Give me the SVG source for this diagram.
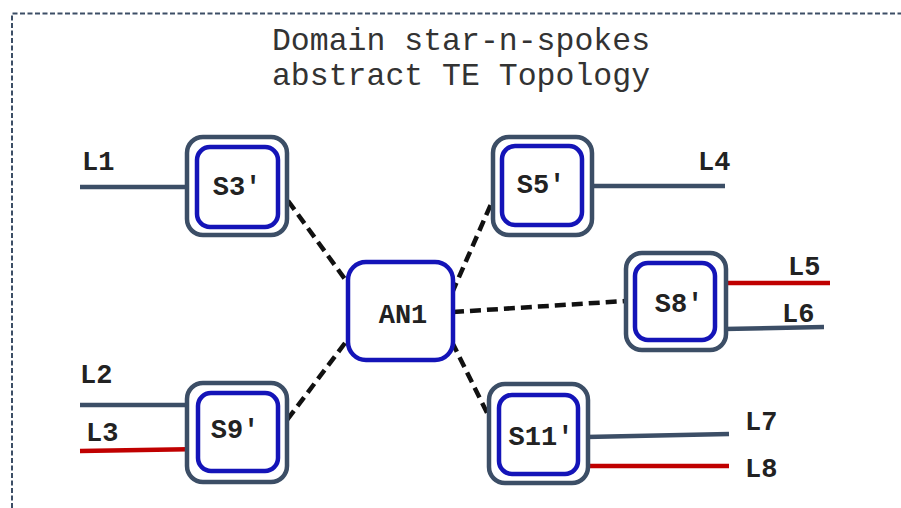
<svg xmlns="http://www.w3.org/2000/svg" width="901" height="508" viewBox="0 0 901 508">
<style>
.frame{fill:none;stroke:#3c4e66;stroke-width:2;stroke-dasharray:5 2.5}
.title{font-family:"Liberation Mono","Courier New",monospace;font-size:31.5px;fill:#333;text-anchor:middle}
.outer{fill:#fff;stroke:#3c4e66;stroke-width:4.5}
.inner{fill:#fff;stroke:#1414b8;stroke-width:4.5}
.lbl{font-family:"Liberation Mono","Courier New",monospace;font-size:27px;font-weight:bold;fill:#222;text-anchor:middle}
.ll{font-family:"Liberation Mono","Courier New",monospace;font-size:27px;font-weight:bold;fill:#222}
.link{fill:none;stroke:#3c4e66;stroke-width:4.5}
.red{fill:none;stroke:#c00000;stroke-width:4.5}
.dash{fill:none;stroke:#111;stroke-width:4.5;stroke-dasharray:11 6}
</style>
<path class="frame" d="M12,508 V13.5 H901"/>
<text class="title" x="461" y="50">Domain star-n-spokes</text>
<text class="title" x="461" y="85">abstract TE Topology</text>

<g id="connectors">
  <line class="dash" x1="278" y1="187" x2="347" y2="282"/>
  <line class="dash" x1="452" y1="293" x2="495" y2="195"/>
  <line class="dash" x1="453" y1="312" x2="626" y2="301"/>
  <line class="dash" x1="345" y1="343" x2="278" y2="432"/>
  <line class="dash" x1="452" y1="342" x2="499" y2="437"/>
</g>

<g id="links">
  <line class="link" x1="80" y1="187" x2="189" y2="187"/>
  <text class="ll" x="82" y="170">L1</text>
  <line class="link" x1="590" y1="186" x2="725" y2="186"/>
  <text class="ll" x="698" y="170">L4</text>
  <line class="red" x1="717" y1="283" x2="830" y2="283"/>
  <text class="ll" x="788" y="275">L5</text>
  <line class="link" x1="724" y1="329" x2="824" y2="327"/>
  <text class="ll" x="782" y="322">L6</text>
  <line class="link" x1="80" y1="405" x2="189" y2="405"/>
  <text class="ll" x="80" y="383">L2</text>
  <line class="red" x1="80" y1="451" x2="203" y2="449"/>
  <text class="ll" x="86" y="441">L3</text>
  <line class="link" x1="586" y1="437" x2="729" y2="434"/>
  <text class="ll" x="745" y="430">L7</text>
  <line class="red" x1="586" y1="466" x2="729" y2="466"/>
  <text class="ll" x="745" y="477">L8</text>
</g>

<g id="S3">
  <rect class="outer" x="187" y="137" width="100" height="98" rx="16"/>
  <rect class="inner" x="197" y="147" width="81" height="80" rx="13"/>
  <text class="lbl" x="237" y="195">S3′</text>
</g>
<g id="S5">
  <rect class="outer" x="493" y="137" width="99" height="98" rx="16"/>
  <rect class="inner" x="502" y="146" width="80" height="79" rx="13"/>
  <text class="lbl" x="541" y="193">S5′</text>
</g>
<g id="AN1">
  <rect class="inner" x="348" y="262" width="105" height="98" rx="18"/>
  <text class="lbl" x="403" y="323">AN1</text>
</g>
<g id="S8">
  <rect class="outer" x="626" y="253" width="100" height="97" rx="16"/>
  <rect class="inner" x="635" y="263" width="80" height="77" rx="13"/>
  <text class="lbl" x="679" y="312">S8′</text>
</g>
<g id="S9">
  <rect class="outer" x="187" y="383" width="100" height="99" rx="16"/>
  <rect class="inner" x="198" y="393" width="80" height="78" rx="13"/>
  <text class="lbl" x="235" y="438">S9′</text>
</g>
<g id="S11">
  <rect class="outer" x="489" y="384" width="99" height="99" rx="16"/>
  <rect class="inner" x="499" y="395" width="79" height="79" rx="13"/>
  <text class="lbl" x="541" y="445">S11′</text>
</g>
</svg>
